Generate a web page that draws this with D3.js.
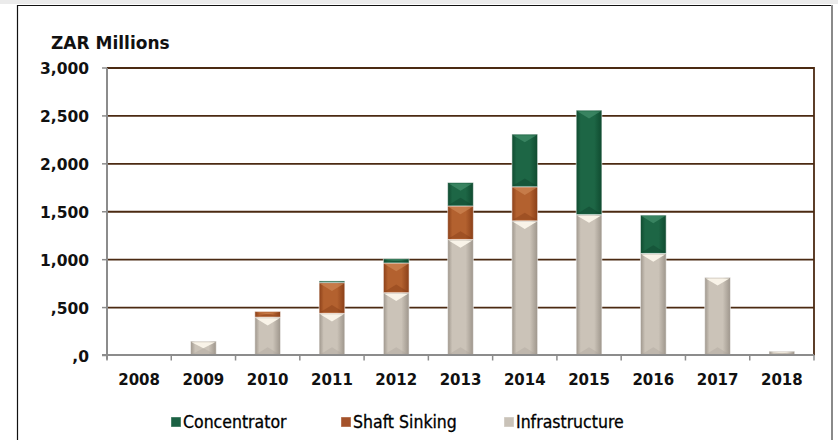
<!DOCTYPE html>
<html>
<head>
<meta charset="utf-8">
<script src="https://cdn.jsdelivr.net/npm/d3@7"></script>
<style>
  body { margin: 0; background: #fff; }
  svg { display: block; }
  .tick-label { font-family: "DejaVu Sans", Verdana, sans-serif; font-weight: bold; font-size: 15px; fill: #111; }
  .legend-label { font-family: "DejaVu Sans Condensed", "DejaVu Sans", sans-serif; font-stretch: condensed; font-size: 17.5px; fill: #000; }
</style>
</head>
<body>
<svg id="chart" width="838" height="440"></svg>
<script>
// data (ZAR millions)
const years = ["2008", "2009", "2010", "2011", "2012", "2013", "2014", "2015", "2016", "2017", "2018"];
const infrastructure = [3, 150, 400, 440, 655, 1210, 1405, 1470, 1065, 815, 45];
const shaftSinking = [0, 0, 60, 320, 310, 350, 355, 0, 0, 0, 0];
const concentrator = [0, 0, 0, 18, 45, 245, 550, 1090, 400, 0, 0];

const yTickValues = [0, 500, 1000, 1500, 2000, 2500, 3000];
const yTickLabels = [",0", ",500", "1,000", "1,500", "2,000", "2,500", "3,000"];

const seriesKeys = ["Infrastructure", "Shaft Sinking", "Concentrator"]; // bottom to top
const legendKeys = ["Concentrator", "Shaft Sinking", "Infrastructure"];

const table = years.map((y, i) => ({
  year: y,
  "Infrastructure": infrastructure[i],
  "Shaft Sinking": shaftSinking[i],
  "Concentrator": concentrator[i],
}));

// edge / middle / top highlight / bottom shade
const colors = {
  "Concentrator": { edge: "#0f4a2f", mid: "#1d6645", hi: "#4f9b76", lo: "#0b3a24", legend: "#1b6143" },
  "Shaft Sinking": { edge: "#8a3f18", mid: "#b3612f", hi: "#d6925f", lo: "#7a3512", legend: "#a4522a" },
  "Infrastructure": { edge: "#9d958b", mid: "#cbc3b8", hi: "#fbf6ea", lo: "#a9a197", legend: "#c9c2b8" },
};

const svg = d3.select("#chart");
const margin = { left: 107, right: 814, top: 68, bottom: 355.5 };

// frame
svg.append("rect").attr("x", 0).attr("y", 0).attr("width", 838).attr("height", 4).attr("fill", "#ebebeb");
svg.append("line").attr("x1", 17).attr("x2", 833).attr("y1", 5.5).attr("y2", 5.5).attr("stroke", "#111").attr("stroke-width", 1.2);
svg.append("line").attr("x1", 17.5).attr("x2", 17.5).attr("y1", 5).attr("y2", 440).attr("stroke", "#111").attr("stroke-width", 1.2);
svg.append("line").attr("x1", 832).attr("x2", 832).attr("y1", 5).attr("y2", 440).attr("stroke", "#8a8a8a").attr("stroke-width", 2);

const x = d3.scaleBand().domain(years).range([margin.left, margin.right]).paddingInner(0.6).paddingOuter(0.3);
const xSlots = d3.scaleBand().domain(years).range([margin.left, margin.right]).padding(0);
const y = d3.scaleLinear().domain([0, 3000]).range([margin.bottom, margin.top]);

// gradients
const defs = svg.append("defs");
seriesKeys.forEach((k, i) => {
  const g = defs.append("linearGradient").attr("id", "grad" + i).attr("x1", "0").attr("x2", "1").attr("y1", "0").attr("y2", "0");
  g.append("stop").attr("offset", "0%").attr("stop-color", colors[k].edge);
  g.append("stop").attr("offset", "18%").attr("stop-color", colors[k].mid);
  g.append("stop").attr("offset", "70%").attr("stop-color", colors[k].mid);
  g.append("stop").attr("offset", "100%").attr("stop-color", colors[k].edge);
});

// gridlines
svg.append("g")
  .selectAll("line")
  .data(yTickValues.filter((d) => d > 0))
  .join("line")
  .attr("x1", margin.left)
  .attr("x2", margin.right)
  .attr("y1", (d) => y(d))
  .attr("y2", (d) => y(d))
  .attr("stroke", "#4b2a12")
  .attr("stroke-width", 1.8);

// right border of plot
svg.append("line")
  .attr("x1", margin.right).attr("x2", margin.right)
  .attr("y1", y(3000) - 1).attr("y2", margin.bottom)
  .attr("stroke", "#4b2a12").attr("stroke-width", 1.8);

// bars
const stacked = d3.stack().keys(seriesKeys)(table);

stacked.forEach((layer, li) => {
  const k = layer.key;
  const c = colors[k];
  const segs = svg.append("g")
    .selectAll("g")
    .data(layer.filter((d) => d[1] - d[0] > 0))
    .join("g");

  segs.each(function (d) {
    const g = d3.select(this);
    const bx = x(d.data.year);
    const w = x.bandwidth();
    const top = y(d[1]);
    const h = y(d[0]) - y(d[1]);
    const t = Math.min(h / 2, w * 0.32);
    g.append("rect")
      .attr("x", bx).attr("y", top).attr("width", w).attr("height", h)
      .attr("fill", "url(#grad" + li + ")")
      .attr("stroke", "#ffffff").attr("stroke-opacity", 0.55).attr("stroke-width", 1);
    if (h > 3) {
      g.append("polygon")
        .attr("points", [[bx + 1, top + 1], [bx + w - 1, top + 1], [bx + w / 2, top + t]].join(" "))
        .attr("fill", c.hi).attr("opacity", k === "Infrastructure" ? 0.95 : 0.55);
      g.append("polygon")
        .attr("points", [[bx + 1, top + h - 1], [bx + w - 1, top + h - 1], [bx + w / 2, top + h - t]].join(" "))
        .attr("fill", c.lo).attr("opacity", 0.35);
    }
  });
});

// y axis
svg.append("line")
  .attr("x1", margin.left).attr("x2", margin.left)
  .attr("y1", margin.top).attr("y2", margin.bottom + 4)
  .attr("stroke", "#8c8c8c").attr("stroke-width", 2);

svg.append("g")
  .selectAll("line")
  .data(yTickValues)
  .join("line")
  .attr("x1", margin.left - 5).attr("x2", margin.left)
  .attr("y1", (d) => y(d)).attr("y2", (d) => y(d))
  .attr("stroke", "#8c8c8c").attr("stroke-width", 1.5);

svg.append("g")
  .selectAll("text")
  .data(yTickValues)
  .join("text")
  .attr("class", "tick-label")
  .attr("x", 89)
  .attr("y", (d) => y(d) + 6)
  .attr("text-anchor", "end")
  .style("font-size", "15.5px")
  .text((d, i) => yTickLabels[i]);

// x axis
svg.append("line")
  .attr("x1", margin.left - 5).attr("x2", margin.right)
  .attr("y1", margin.bottom - 0.5).attr("y2", margin.bottom - 0.5)
  .attr("stroke", "#8c8c8c").attr("stroke-width", 2);

const boundaries = years.map((d) => xSlots(d)).concat([margin.right]);
svg.append("g")
  .selectAll("line")
  .data(boundaries)
  .join("line")
  .attr("x1", (d) => d).attr("x2", (d) => d)
  .attr("y1", margin.bottom).attr("y2", margin.bottom + 5)
  .attr("stroke", "#8c8c8c").attr("stroke-width", 1.5);

svg.append("g")
  .selectAll("text")
  .data(years)
  .join("text")
  .attr("class", "tick-label")
  .attr("x", (d) => x(d) + x.bandwidth() / 2)
  .attr("y", 384.5)
  .attr("text-anchor", "middle")
  .text((d) => d);

// unit title
svg.append("text")
  .attr("x", 51)
  .attr("y", 49)
  .style("font-family", '"DejaVu Sans", Verdana, sans-serif')
  .style("font-weight", "bold")
  .style("font-size", "17px")
  .style("fill", "#111")
  .text("ZAR Millions");

// legend
const legendX = [171, 341, 504];
const legend = svg.append("g")
  .selectAll("g")
  .data(legendKeys)
  .join("g")
  .attr("transform", (d, i) => `translate(${legendX[i]},417)`);

legend.append("rect")
  .attr("width", 10).attr("height", 10)
  .attr("fill", (d) => colors[d].legend)
  .attr("stroke", "#ffffff").attr("stroke-opacity", 0.4);

legend.append("text")
  .attr("class", "legend-label")
  .attr("x", 12)
  .attr("y", 10.5)
  .style("stroke", "#000")
  .style("stroke-width", 0.3)
  .text((d) => d);
</script>
</body>
</html>
